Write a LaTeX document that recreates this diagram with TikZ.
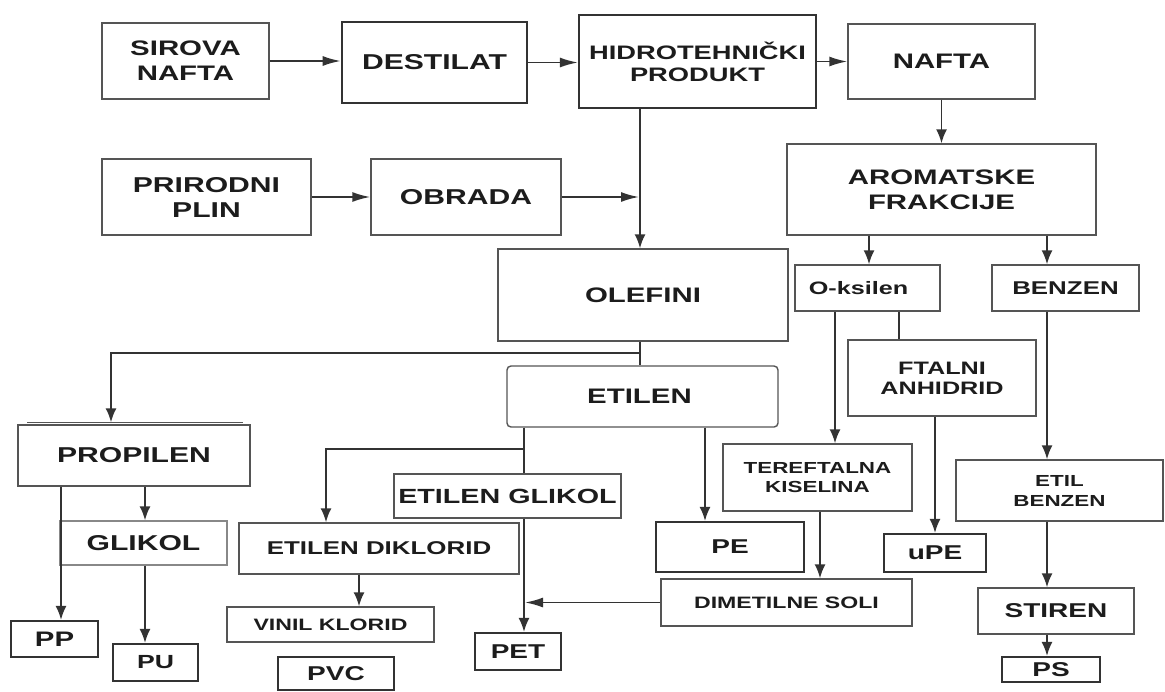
\documentclass[tikz,border=0pt]{standalone}
\usepackage{fontspec}
\setmainfont{Liberation Sans}
\newfontfamily\bw[FakeStretch=1.4]{Liberation Sans Bold}
\usetikzlibrary{arrows.meta}
\definecolor{lncol}{HTML}{333333}
\definecolor{txcol}{HTML}{1C1C1C}
\definecolor{bdcol}{HTML}{555555}
\begin{document}
\begin{tikzpicture}[x=1pt,y=-1pt,
  fs/.style 2 args={font=\bw\fontsize{#1}{#2}\selectfont},
  pbox/.style={draw=bdcol, line width=1.4pt, fill=white, text=txcol, align=center, inner sep=0pt, fs={21}{25}},
  tbox/.style={pbox, draw=lncol, line width=2.2pt},
  sz/.style 2 args={minimum width=#1pt, minimum height=#2pt},
  conn/.style={draw=lncol, line width=1.8pt},
  varr/.style={conn, -{Latex[length=14pt,width=11pt]}},
  harr/.style={conn, -{Latex[length=18pt,width=10pt]}}
]
\useasboundingbox[fill=white] (0,0) rectangle (1165,691);

% nodes
\node[pbox,sz={167}{76}] (sirova) at (185.5,61) {SIROVA\\NAFTA};
\node[tbox,sz={185}{81},line width=2.6pt,fs={21.5}{25}] (destilat) at (434.5,62.5) {DESTILAT};
\node[tbox,sz={237}{93},fs={19.5}{22}] (hidro) at (697.5,61.5) {HIDROTEHNIČKI\\PRODUKT};
\node[pbox,sz={187}{75}] (nafta) at (941.5,61.5) {NAFTA};
\node[pbox,sz={309}{91}] (arom) at (941.5,189.5) {AROMATSKE\\FRAKCIJE};
\node[pbox,sz={209}{76},fs={21.5}{25}] (priro) at (206.5,197) {PRIRODNI\\PLIN};
\node[pbox,sz={190}{76},fs={21.5}{25}] (obrada) at (466,197) {OBRADA};
\node[pbox,sz={290}{92}] (olefini) at (643,295) {OLEFINI};
\node[pbox,sz={145}{46},fs={18}{21}] (oksilen) at (867.5,288) {O-ksilen\hspace*{18pt}};
\node[pbox,sz={147}{46},fs={18.5}{21}] (benzen) at (1065.5,288) {BENZEN};
\node[pbox,sz={271}{61},rounded corners=4pt] (etilen) at (642.5,396.5) {ETILEN\hspace*{6pt}};
\node[pbox,sz={232}{61},fs={21.5}{25}] (propilen) at (134,455.5) {PROPILEN};
\node[pbox,sz={188}{76},fs={18}{20}] (ftalni) at (942,378) {FTALNI\\ANHIDRID};
\node[pbox,sz={189}{67},fs={16}{19}] (terefta) at (817.5,477.5) {TEREFTALNA\\KISELINA};
\node[pbox,sz={207}{61},fs={16}{20}] (etilbenz) at (1059.5,490.5) {ETIL\\BENZEN};
\node[pbox,sz={227}{44},fs={20.5}{24}] (etglikol) at (507.5,496) {ETILEN GLIKOL};
\node[pbox,sz={167}{44},draw=bdcol!70,fs={21.5}{25}] (glikol) at (143.5,543) {GLIKOL};
\node[pbox,sz={280}{51},fs={18.5}{22}] (etdikl) at (379,548.5) {ETILEN DIKLORID};
\node[tbox,sz={148}{50},fs={20}{24}] (pe) at (730,547) {PE};
\node[tbox,sz={102}{38},fs={20}{24}] (upe) at (935,553) {uPE};
\node[pbox,sz={251}{47},fs={16.5}{20}] (dimet) at (786.5,602.5) {DIMETILNE SOLI};
\node[pbox,sz={156}{46},fs={20}{24}] (stiren) at (1056,611) {STIREN};
\node[pbox,sz={207}{35},fs={16.5}{20}] (vinil) at (330.5,624.5) {VINIL KLORID};
\node[tbox,sz={87}{36},fs={21}{24}] (pp) at (54.5,639) {PP};
\node[tbox,sz={85}{37},fs={19}{23}] (pu) at (155.5,662.5) {PU};
\node[tbox,sz={86}{37},fs={20}{24}] (pet) at (518,651.5) {PET};
\node[tbox,sz={116}{33},fs={20}{24}] (pvc) at (336,673.5) {PVC};
\node[tbox,sz={98}{25},fs={20}{24}] (ps) at (1051,669.5) {PS};

% second edge above PROPILEN
\draw[bdcol, line width=1.4pt] ([xshift=10pt,yshift=2pt]propilen.north west) -- ([xshift=-8pt,yshift=2pt]propilen.north east);

% helper x positions
\coordinate (hx) at (640,0);
\coordinate (ox) at (869,0);
\coordinate (bx) at (1047,0);
\coordinate (kx) at (835,0);
\coordinate (fx) at (899,0);
\coordinate (tdx) at (820,0);
\coordinate (gx) at (524,0);
\coordinate (dx) at (326,0);
\coordinate (px) at (705,0);
\coordinate (prx) at (111,0);
\coordinate (ppx) at (61,0);
\coordinate (gkx) at (145,0);
\coordinate (vx) at (359,0);
\coordinate (j1) at (524,449);
\coordinate (j2) at (640,353);

% connectors
\draw[harr] (sirova.east) -- (sirova.east -| destilat.west);
\draw[harr] (destilat.east) -- (destilat.east -| hidro.west);
\draw[harr] (hidro.east) -- (hidro.east -| nafta.west);
\draw[harr] (priro.east) -- (priro.east -| obrada.west);
\draw[varr] (nafta.south) -- (arom.north);
\draw[varr] (hx |- hidro.south) -- (hx |- olefini.north);
\draw[harr, shorten >=1pt] (obrada.east) -- (hx |- obrada.east);
\draw[varr] (ox |- arom.south) -- (ox |- oksilen.north);
\draw[varr] (bx |- arom.south) -- (bx |- benzen.north);
\draw[varr] (bx |- benzen.south) -- (bx |- etilbenz.north);
\draw[varr] (bx |- etilbenz.south) -- (bx |- stiren.north);
\draw[varr] (bx |- stiren.south) -- (bx |- ps.north);
\draw[varr] (kx |- oksilen.south) -- (kx |- terefta.north);
\draw[conn] (fx |- oksilen.south) -- (fx |- ftalni.north);
\draw[varr] (upe.north |- ftalni.south) -- (upe.north);
\draw[varr] (tdx |- terefta.south) -- (tdx |- dimet.north);
\draw[harr] (dimet.west) -- ([xshift=1pt]gx |- dimet.west);
\draw[conn] (gx |- etilen.south) -- (gx |- etglikol.north);
\draw[varr] (gx |- etglikol.south) -- (gx |- pet.north);
\draw[varr] (j1) -| (dx |- etdikl.north);
\draw[varr] (px |- etilen.south) -- (px |- pe.north);
\draw[conn] (hx |- olefini.south) -- (hx |- etilen.north);
\draw[varr] (j2) -| ([yshift=2pt]prx |- propilen.north);
\draw[varr] (ppx |- propilen.south) -- (ppx |- pp.north);
\draw[varr] (gkx |- propilen.south) -- (gkx |- glikol.north);
\draw[varr] (gkx |- glikol.south) -- (gkx |- pu.north);
\draw[varr] (vx |- etdikl.south) -- (vx |- vinil.north);
\end{tikzpicture}
\end{document}
